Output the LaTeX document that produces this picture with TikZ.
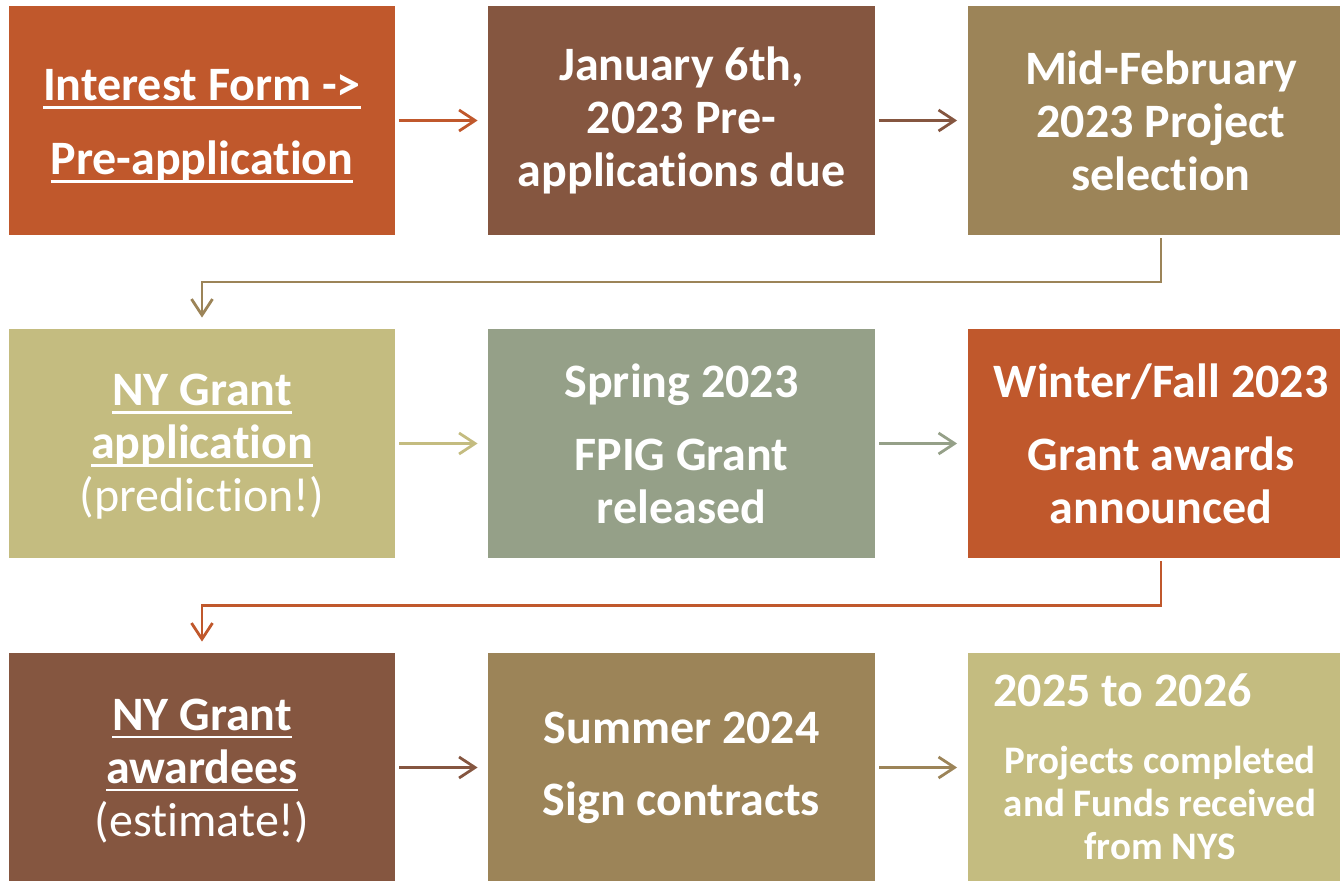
\documentclass[tikz,border=0pt]{standalone}
\usepackage{fontspec}
\setmainfont{Carlito}[Ligatures=NoCommon]
\usetikzlibrary{arrows.meta,calc}
\definecolor{rust}{HTML}{C0582C}
\definecolor{bark}{HTML}{855640}
\definecolor{khaki}{HTML}{9C8458}
\definecolor{olive}{HTML}{C4BC80}
\definecolor{sage}{HTML}{95A088}
% underline drawn as a rule under the boxed text
\newcommand\ulbar[1]{\setbox0=\hbox{#1}\rlap{\rule[-4.1pt]{\wd0}{1.25pt}}\box0}
\begin{document}
\begin{tikzpicture}[x=0.5pt,y=-0.5pt,
  stage/.style={rectangle, minimum width=193.5pt, minimum height=114.5pt,
    inner sep=0pt, text=white, align=center,
    font=\fontsize{24}{26.5}\selectfont\bfseries},
  flow/.style={line width=1.4pt, -{Straight Barb[length=8pt,width=10.5pt]},
    shorten <=2pt, shorten >=5pt},
  drop/.style={line width=1.4pt, -{Straight Barb[length=8pt,width=10.5pt]},
    shorten <=1.5pt, shorten >=5.5pt}]
\useasboundingbox (0,0) rectangle (1340,880);

% row 1
\node[stage, fill=rust, minimum width=193pt] (s1) at (202,120.5)
  {\rule{0pt}{21pt}\ulbar{Interest Form ->}\\[10.5pt]\ulbar{Pre-application}};
\node[stage, fill=bark] (s2) at (681.5,120.5)
  {January 6th,\\2023 Pre-\\applications due};
\node[stage, fill=khaki] (s3) at (1161,120.5)
  {Mid-February\\2023 Project\\selection};

% row 2
\node[stage, fill=olive, minimum width=193pt] (s4) at (202,443.5)
  {\rule{0pt}{19pt}\ulbar{NY Grant}\\\ulbar{application}\\{\mdseries (prediction!)}};
\node[stage, fill=sage] (s5) at (681.5,443.5)
  {Spring 2023\\[10pt]FPIG Grant\\released};
\node[stage, fill=rust] (s6) at (1161,443.5)
  {Winter/Fall 2023\\[10pt]Grant awards\\announced};

% row 3
\node[stage, fill=bark, minimum width=193pt] (s7) at (202,767.5)
  {\rule{0pt}{19pt}\ulbar{NY Grant}\\\ulbar{awardees}\\{\mdseries (estimate!)}};
\node[stage, fill=khaki] (s8) at (681.5,767.5)
  {Summer 2024\\[9.5pt]Sign contracts};
\node[stage, fill=olive] (s9) at (1161,767.5) {};
\node[anchor=base west, inner sep=0pt, text=white,
  font=\fontsize{24}{26.5}\selectfont\bfseries] (s9a) at (993,706) {2025 to 2026};
\node[inner sep=0pt, text=white, align=center,
  font=\fontsize{19.5}{21.5}\selectfont\bfseries] (s9b) at (1160,803)
  {Projects completed\\and Funds received\\from NYS};

% horizontal steps
\draw[flow, rust] (s1) -- (s2);
\draw[flow, bark] (s2) -- (s3);
\draw[flow, olive] (s4) -- (s5);
\draw[flow, sage] (s5) -- (s6);
\draw[flow, bark] (s7) -- (s8);
\draw[flow, khaki] (s8) -- (s9);

% row changes
\coordinate (m1) at ($(s3.south)!0.5!(s4.north)$);
\coordinate (m2) at ($(s6.south)!0.5!(s7.north)$);
\draw[drop, khaki] (s3.south) |- (m1) -| (s4.north);
\draw[drop, rust] (s6.south) |- (m2) -| (s7.north);
\end{tikzpicture}
\end{document}
